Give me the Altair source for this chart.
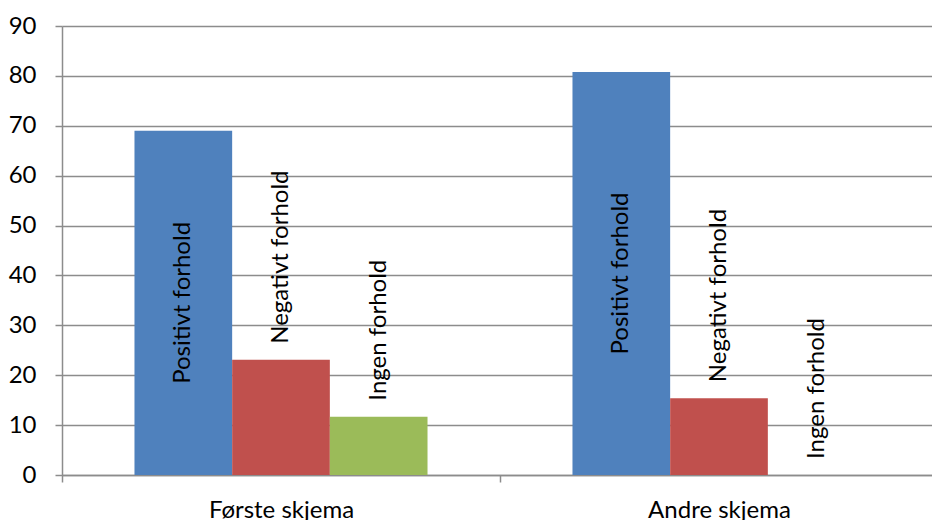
import altair as alt
import pandas as pd

# Survey result: share (%) per relation type, for each questionnaire round
schemas = ["Første skjema", "Andre skjema"]
relations = ["Positivt forhold", "Negativt forhold", "Ingen forhold"]
positive = [69.0, 80.8]
negative = [23.1, 15.4]
no_relation = [11.7, 0.0]
colors = ["#4F81BD", "#C0504D", "#9BBB59"]
y_ticks = [0, 10, 20, 30, 40, 50, 60, 70, 80, 90]

rows = []
for i, s in enumerate(schemas):
    for r, vals in zip(relations, [positive, negative, no_relation]):
        rows.append({"skjema": s, "forhold": r, "prosent": vals[i]})
df = pd.DataFrame(rows)

FONT = "Lato"
SIZE = 24
GRID = "#8C8C8C"

x_enc = alt.X(
    "skjema:N",
    sort=schemas,
    scale=alt.Scale(domain=schemas, range=[0, 876], paddingInner=0, paddingOuter=0),
    axis=alt.Axis(
        title=None,
        labelAngle=0,
        tickBand="extent",
        tickSize=7,
        tickColor=GRID,
        tickWidth=1.5,
        domainColor=GRID,
        domainWidth=1.5,
        labelPadding=16,
        labelFont=FONT,
        labelFontSize=SIZE,
        labelColor="#000000",
        grid=False,
    ),
)
xoff_enc = alt.XOffset(
    "forhold:N",
    sort=relations,
    scale=alt.Scale(domain=relations, paddingInner=0, paddingOuter=0.742),
)
y_scale = alt.Scale(domain=[0, 90], nice=False)

bars = alt.Chart(df).mark_bar().encode(
    x=x_enc,
    xOffset=xoff_enc,
    y=alt.Y(
        "prosent:Q",
        scale=y_scale,
        axis=alt.Axis(
            title=None,
            values=y_ticks,
            grid=True,
            gridColor=GRID,
            gridWidth=1.5,
            tickSize=7,
            tickColor=GRID,
            tickWidth=1.5,
            domainColor=GRID,
            domainWidth=1.5,
            labelPadding=19,
            labelFont=FONT,
            labelFontSize=SIZE,
            labelColor="#000000",
        ),
    ),
    color=alt.Color(
        "forhold:N",
        sort=relations,
        scale=alt.Scale(domain=relations, range=colors),
        legend=None,
    ),
)

# Label of the tallest series sits in the middle of its bar
inside = (
    alt.Chart(df)
    .transform_filter(alt.datum.forhold == relations[0])
    .transform_calculate(mid="datum.prosent / 2")
    .mark_text(angle=270, align="center", baseline="middle", font=FONT, fontSize=SIZE, color="#000000")
    .encode(x=x_enc, xOffset=xoff_enc, y=alt.Y("mid:Q", scale=y_scale), text="forhold:N")
)

# Other labels stand just above their bars
above = (
    alt.Chart(df)
    .transform_filter(alt.datum.forhold != relations[0])
    .mark_text(angle=270, align="left", baseline="middle", dx=16, font=FONT, fontSize=SIZE, color="#000000")
    .encode(x=x_enc, xOffset=xoff_enc, y=alt.Y("prosent:Q", scale=y_scale), text="forhold:N")
)

chart = (
    alt.layer(bars, inside, above)
    .properties(
        width=870,
        height=449,
        autosize=alt.AutoSizeParams(type="none"),
        padding={"left": 62, "top": 26, "right": 0, "bottom": 45},
        background="#FFFFFF",
    )
    .configure_view(stroke=None)
)

chart.save("out.html", embed_options={"renderer": "svg", "actions": False})
